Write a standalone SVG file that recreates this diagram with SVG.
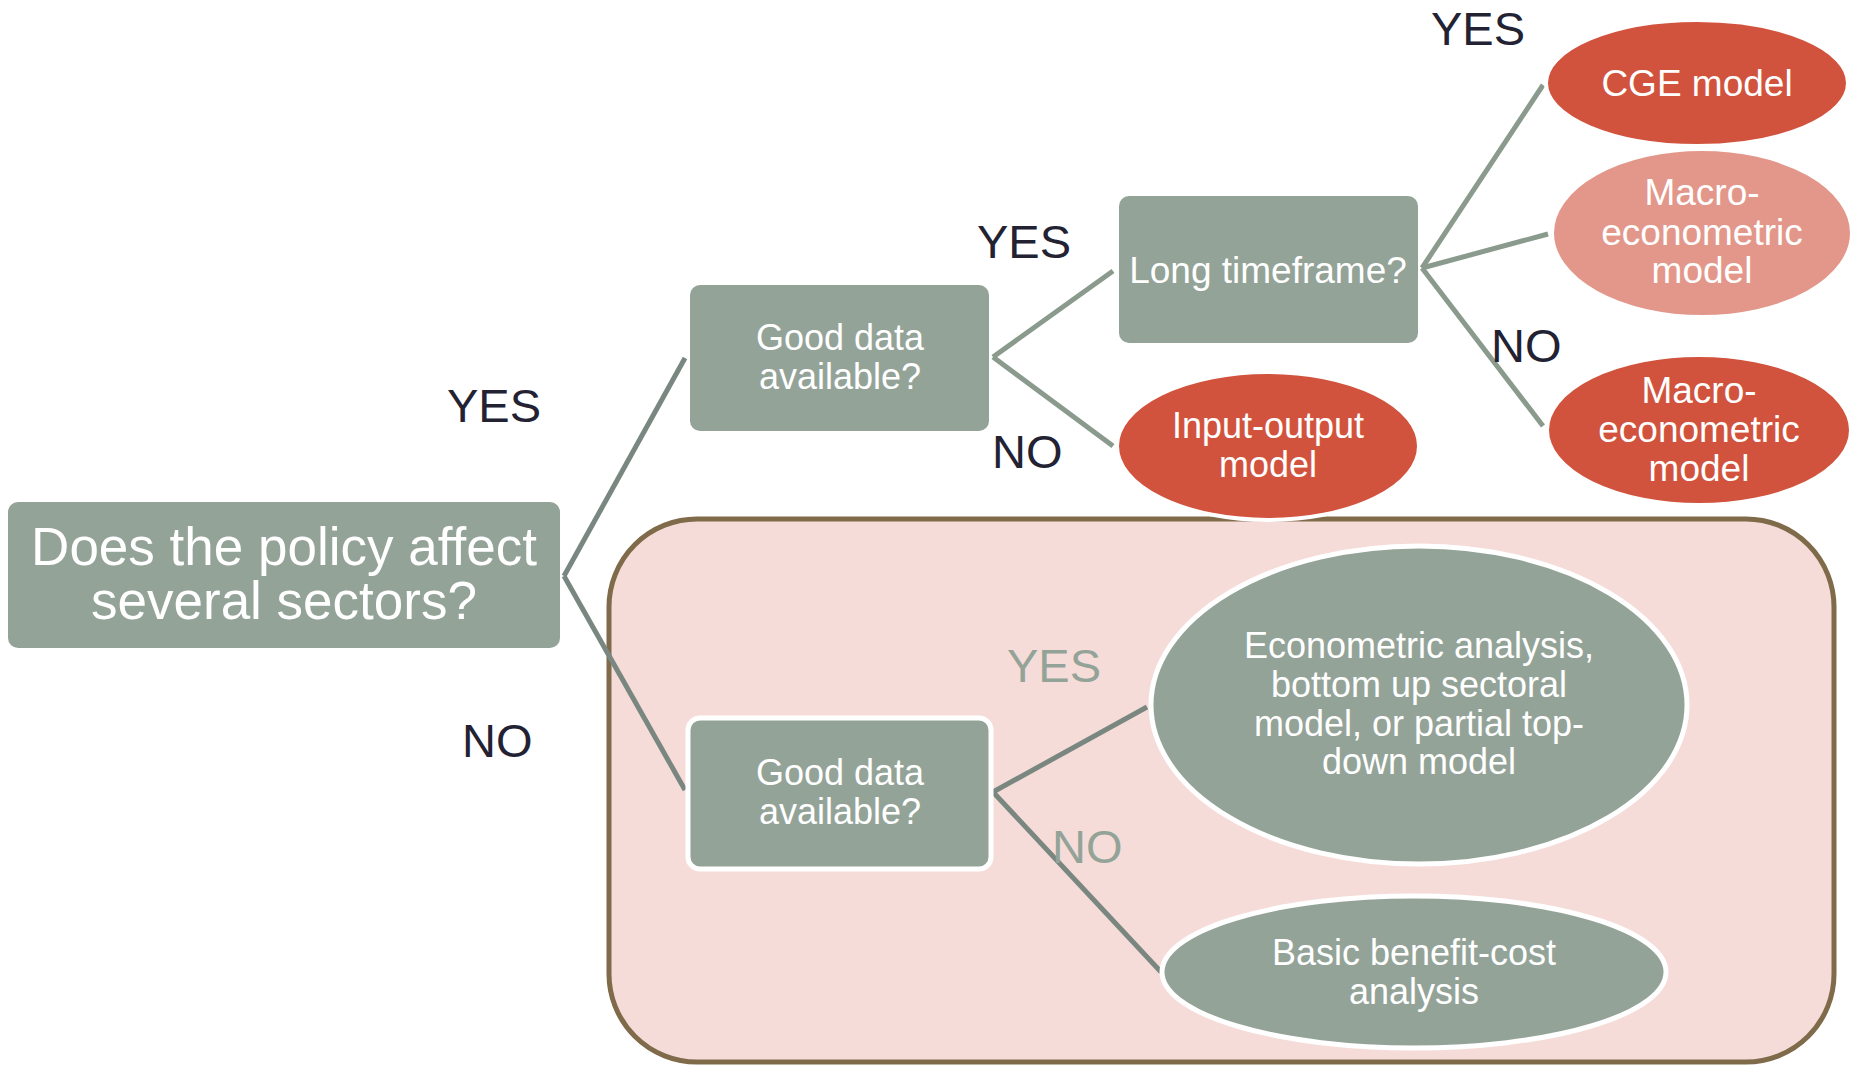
<svg xmlns="http://www.w3.org/2000/svg" width="1854" height="1067" viewBox="0 0 1854 1067">
<style>
.box{fill:#93A398;}
.wb{stroke:#FFFFFF;stroke-width:5;}
.red{fill:#D2533D;stroke:#FFFFFF;stroke-width:4;}
.light{fill:#E3978A;stroke:#FFFFFF;stroke-width:4;}
.grn{fill:#93A398;stroke:#FFFFFF;stroke-width:5;}
.t{font-family:"Liberation Sans",Arial,sans-serif;fill:#FFFFFF;text-anchor:middle;}
.lbl{font-family:"Liberation Sans",Arial,sans-serif;fill:#222233;font-size:47px;}
.lblg{font-family:"Liberation Sans",Arial,sans-serif;fill:#93A398;font-size:47px;}
.c{stroke:#7A8780;stroke-width:5;fill:none;}
.c2{stroke:#8A9A8C;stroke-width:5;fill:none;}
</style>
<rect x="0" y="0" width="1854" height="1067" fill="#FFFFFF"/>
<g id="region">
<rect x="609" y="519" width="1225" height="543" rx="88" ry="88" fill="#F6DCD8" stroke="#7F6A4A" stroke-width="5"/>
</g>
<g id="connectors">
<line class="c" x1="564" y1="576" x2="685" y2="358"/>
<line class="c" x1="564" y1="576" x2="685" y2="790"/>
<line class="c2" x1="993" y1="357" x2="1113" y2="271"/>
<line class="c2" x1="993" y1="357" x2="1113" y2="446"/>
<line class="c2" x1="1422" y1="268" x2="1543" y2="85"/>
<line class="c2" x1="1422" y1="268" x2="1548" y2="234"/>
<line class="c2" x1="1422" y1="268" x2="1543" y2="426"/>
<line class="c" x1="993" y1="792" x2="1147" y2="707"/>
<line class="c" x1="993" y1="792" x2="1161" y2="972"/>
</g>
<g id="root">
<rect class="box" x="8" y="502" width="552" height="146" rx="10"/>
<text class="t" font-size="53" x="284" y="565">Does the policy affect</text>
<text class="t" font-size="53" x="284" y="619">several sectors?</text>
</g>
<g id="data1">
<rect class="box" x="690" y="285" width="299" height="146" rx="10"/>
<text class="t" font-size="36" x="840" y="350">Good data</text>
<text class="t" font-size="36" x="840" y="389">available?</text>
</g>
<g id="longtime">
<rect class="box" x="1119" y="196" width="299" height="147" rx="10"/>
<text class="t" font-size="37" x="1268" y="283">Long timeframe?</text>
</g>
<g id="io">
<ellipse class="red" cx="1268" cy="446" rx="151" ry="74"/>
<text class="t" font-size="36" x="1268" y="438">Input-output</text>
<text class="t" font-size="36" x="1268" y="477">model</text>
</g>
<g id="cge">
<ellipse class="red" cx="1697" cy="83" rx="151" ry="63"/>
<text class="t" font-size="37" x="1697" y="96">CGE model</text>
</g>
<g id="macro1">
<ellipse class="light" cx="1702" cy="233" rx="150" ry="84"/>
<text class="t" font-size="37" x="1702" y="205">Macro-</text>
<text class="t" font-size="37" x="1702" y="245">econometric</text>
<text class="t" font-size="37" x="1702" y="283">model</text>
</g>
<g id="macro2">
<ellipse class="red" cx="1699" cy="430" rx="152" ry="75"/>
<text class="t" font-size="37" x="1699" y="403">Macro-</text>
<text class="t" font-size="37" x="1699" y="442">econometric</text>
<text class="t" font-size="37" x="1699" y="481">model</text>
</g>
<g id="data2">
<rect class="box wb" x="688" y="718" width="303" height="151" rx="12"/>
<text class="t" font-size="36" x="840" y="785">Good data</text>
<text class="t" font-size="36" x="840" y="824">available?</text>
</g>
<g id="econ">
<ellipse class="grn" cx="1419" cy="705" rx="268" ry="159"/>
<text class="t" font-size="36" x="1419" y="658">Econometric analysis,</text>
<text class="t" font-size="36" x="1419" y="697">bottom up sectoral</text>
<text class="t" font-size="36" x="1419" y="736">model, or partial top-</text>
<text class="t" font-size="36" x="1419" y="774">down model</text>
</g>
<g id="bca">
<ellipse class="grn" cx="1414" cy="972" rx="252" ry="76"/>
<text class="t" font-size="36" x="1414" y="965">Basic benefit-cost</text>
<text class="t" font-size="36" x="1414" y="1004">analysis</text>
</g>
<g id="labels">
<text class="lbl" x="1431" y="45">YES</text>
<text class="lbl" x="977" y="258">YES</text>
<text class="lbl" x="992" y="468">NO</text>
<text class="lbl" x="447" y="422">YES</text>
<text class="lbl" x="462" y="757">NO</text>
<text class="lbl" x="1491" y="362">NO</text>
<text class="lblg" x="1007" y="682">YES</text>
<text class="lblg" x="1052" y="863">NO</text>
</g>
</svg>
